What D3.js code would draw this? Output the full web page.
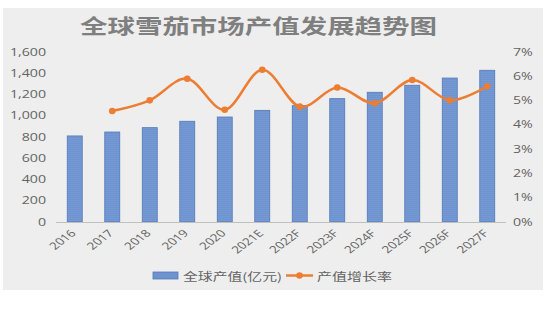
<!DOCTYPE html>
<html>
<head>
<meta charset="utf-8">
<script src="https://cdn.jsdelivr.net/npm/d3@7/dist/d3.min.js"></script>
<style>
  html, body { margin: 0; padding: 0; background: #ffffff; }
  svg { display: block; }
</style>
</head>
<body>
<svg id="chart" width="550" height="330"></svg>
<script>
// Chart data
const years = ["2016", "2017", "2018", "2019", "2020", "2021E", "2022F", "2023F", "2024F", "2025F", "2026F", "2027F"];
const outputValue = [810, 847, 888, 948, 988, 1051, 1095, 1161, 1221, 1287, 1355, 1428];   // 亿元
const growthRate = [null, 0.0457, 0.0501, 0.0590, 0.0462, 0.0627, 0.0475, 0.0554, 0.0489, 0.0585, 0.0501, 0.0559];
const leftTicks = [0, 200, 400, 600, 800, 1000, 1200, 1400, 1600];
const rightTicks = [0, 0.01, 0.02, 0.03, 0.04, 0.05, 0.06, 0.07];
const titleText = "全球雪茄市场产值发展趋势图";
const barLegend = "全球产值(亿元)";
const lineLegend = "产值增长率";

const svg = d3.select("#chart");
const stretch = 1.35;              // horizontal stretch applied to text
const labelFont = "'Open Sans', 'Noto Sans', sans-serif";
const cjkFont = "'Noto Sans CJK SC', sans-serif";
const textColor = "#636363";
const barFill = "#6e93cf";
const barStroke = "#5479b8";
const lineColor = "#ed7d31";

const plot = { left: 56, right: 506, top: 52, bottom: 222 };

// Panel background
svg.append("rect")
  .attr("x", 3).attr("y", 8).attr("width", 540).attr("height", 282)
  .attr("fill", "#eeeeee");

// Subtle horizontal striping inside bars
const defs = svg.append("defs");
const pat = defs.append("pattern")
  .attr("id", "barTex").attr("patternUnits", "userSpaceOnUse")
  .attr("width", 4).attr("height", 2);
pat.append("rect").attr("width", 4).attr("height", 2).attr("fill", barFill);
pat.append("rect").attr("width", 4).attr("height", 1).attr("fill", "#7599d3");

// Scales
const x = d3.scaleBand().domain(years).range([plot.left, plot.right]).paddingInner(0.6).paddingOuter(0.3);
const y = d3.scaleLinear().domain([0, 1600]).range([plot.bottom, plot.top]);
const y2 = d3.scaleLinear().domain([0, 0.07]).range([plot.bottom, plot.top]);

function stretchedText(sel, tx, ty, extra) {
  return sel.attr("x", 0).attr("y", 0)
    .attr("transform", `translate(${tx},${ty}) scale(${stretch},1)` + (extra || ""));
}

// Title
svg.append("text")
  .attr("x", 80).attr("y", 34)
  .attr("textLength", 357).attr("lengthAdjust", "spacingAndGlyphs")
  .attr("font-family", cjkFont).attr("font-weight", "bold").attr("font-size", 20)
  .attr("fill", "#7f7f7f")
  .text(titleText);

// Bars
svg.append("g").selectAll("rect")
  .data(years.map((yr, i) => ({ yr, v: outputValue[i] })))
  .join("rect")
  .attr("x", d => x(d.yr))
  .attr("y", d => y(d.v))
  .attr("width", x.bandwidth())
  .attr("height", d => y(0) - y(d.v))
  .attr("fill", "url(#barTex)")
  .attr("stroke", barStroke).attr("stroke-width", 0.8);

// Baseline
svg.append("line")
  .attr("x1", plot.left).attr("x2", plot.right)
  .attr("y1", plot.bottom + 0.5).attr("y2", plot.bottom + 0.5)
  .attr("stroke", "#bfbfbf").attr("stroke-width", 1);

// Left axis labels
const fmtLeft = d3.format(",");
svg.append("g").selectAll("text")
  .data(leftTicks).join("text")
  .each(function (d) { stretchedText(d3.select(this), 46, y(d) + 3.5); })
  .attr("text-anchor", "end")
  .attr("font-family", labelFont).attr("font-size", 10.5).attr("fill", textColor)
  .text(d => fmtLeft(d));

// Right axis labels
const fmtRight = d3.format(".0%");
svg.append("g").selectAll("text")
  .data(rightTicks).join("text")
  .each(function (d) { stretchedText(d3.select(this), 513, y2(d) + 3.5); })
  .attr("text-anchor", "start")
  .attr("font-family", labelFont).attr("font-size", 10.5).attr("fill", textColor)
  .text(d => fmtRight(d));

// Category labels, rotated
svg.append("g").selectAll("text")
  .data(years).join("text")
  .each(function (d) {
    stretchedText(d3.select(this), x(d) + x.bandwidth() / 2 + 2, 234, " rotate(-45)");
  })
  .attr("text-anchor", "end")
  .attr("font-family", labelFont).attr("font-size", 10).attr("fill", textColor)
  .text(d => d);

// Growth line (smoothed)
const pts = years.map((yr, i) => ({ yr, v: growthRate[i] })).filter(d => d.v != null);
const line = d3.line()
  .x(d => x(d.yr) + x.bandwidth() / 2)
  .y(d => y2(d.v))
  .curve(d3.curveCardinal.tension(0));
svg.append("path")
  .datum(pts)
  .attr("d", line)
  .attr("fill", "none")
  .attr("stroke", lineColor).attr("stroke-width", 2.5)
  .attr("stroke-linecap", "round");
svg.append("g").selectAll("circle")
  .data(pts).join("circle")
  .attr("cx", d => x(d.yr) + x.bandwidth() / 2)
  .attr("cy", d => y2(d.v))
  .attr("r", 3.3)
  .attr("fill", lineColor);

// Legend
const lg = svg.append("g");
lg.append("rect")
  .attr("x", 153).attr("y", 272).attr("width", 25).attr("height", 7)
  .attr("fill", barFill).attr("stroke", barStroke).attr("stroke-width", 0.8);
lg.append("text")
  .attr("x", 183).attr("y", 280.5)
  .attr("textLength", 99).attr("lengthAdjust", "spacingAndGlyphs")
  .attr("font-family", cjkFont).attr("font-size", 11).attr("fill", textColor)
  .text(barLegend);
lg.append("line")
  .attr("x1", 286).attr("x2", 313).attr("y1", 275.5).attr("y2", 275.5)
  .attr("stroke", lineColor).attr("stroke-width", 2.5);
lg.append("circle").attr("cx", 299.5).attr("cy", 275.5).attr("r", 3.3).attr("fill", lineColor);
lg.append("text")
  .attr("x", 317).attr("y", 280.5)
  .attr("textLength", 75).attr("lengthAdjust", "spacingAndGlyphs")
  .attr("font-family", cjkFont).attr("font-size", 11).attr("fill", textColor)
  .text(lineLegend);
</script>
</body>
</html>
